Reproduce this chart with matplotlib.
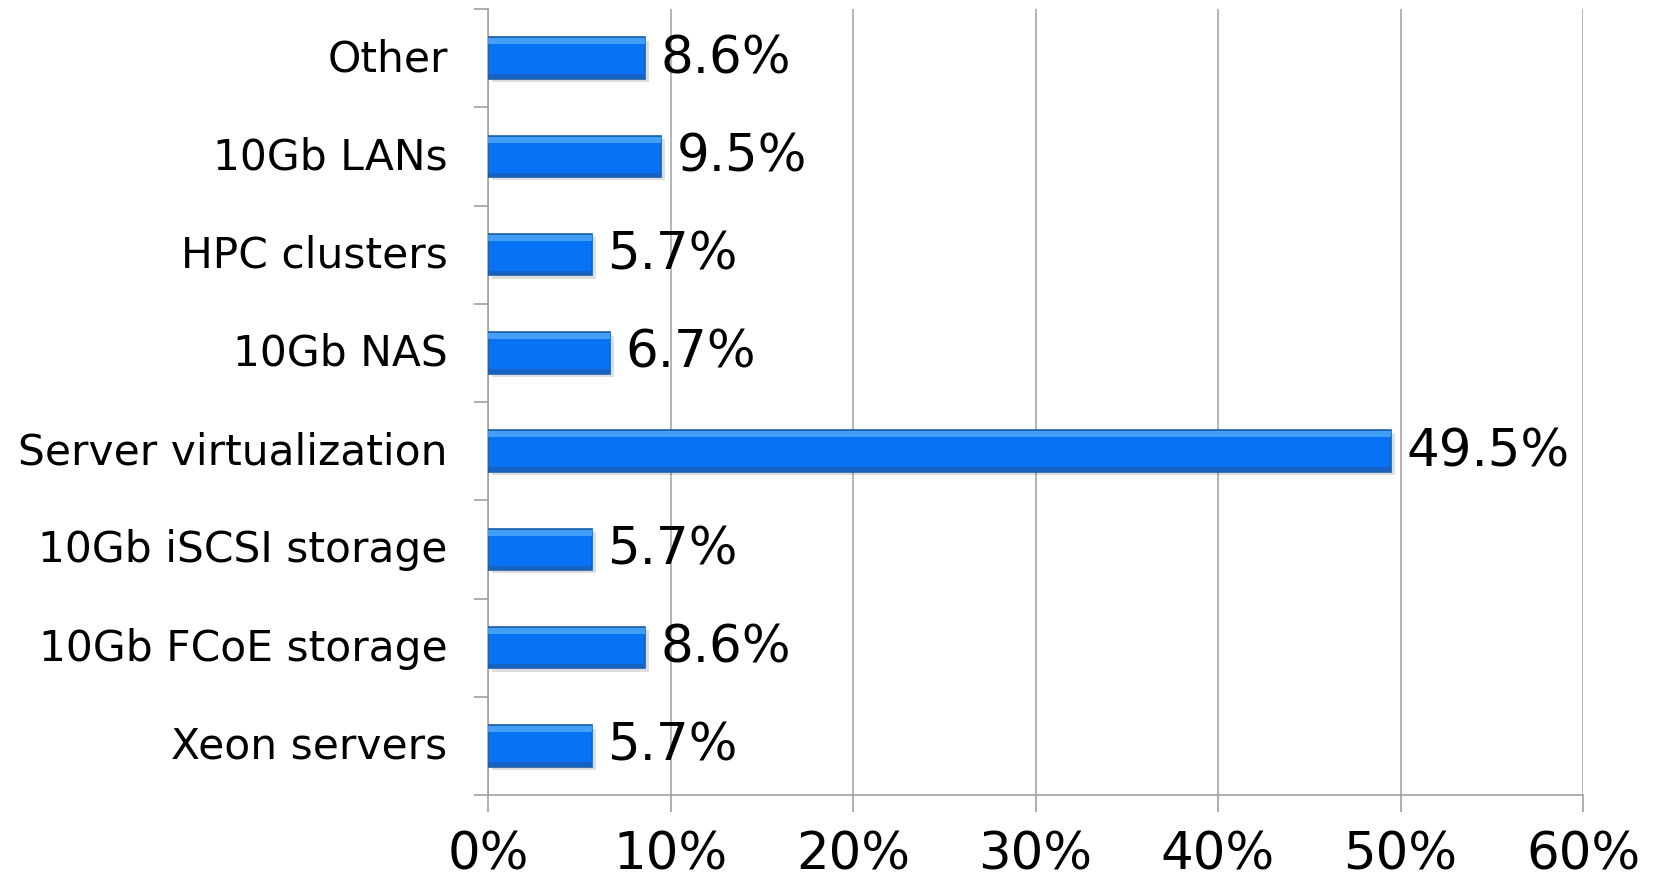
import matplotlib
matplotlib.use("Agg")
import matplotlib.pyplot as plt
import numpy as np

categories = ["Xeon servers", "10Gb FCoE storage", "10Gb iSCSI storage",
              "Server virtualization", "10Gb NAS", "HPC clusters",
              "10Gb LANs", "Other"]
values = [5.7, 8.6, 5.7, 49.5, 6.7, 5.7, 9.5, 8.6]
xticks = [0, 10, 20, 30, 40, 50, 60]
xtick_labels = ["0%", "10%", "20%", "30%", "40%", "50%", "60%"]

plt.rcParams['font.family'] = ['DejaVu Sans']

fig = plt.figure(figsize=(16.57, 8.87), dpi=100)
ax = fig.add_axes([488/1657, 1 - 796/887, (1583 - 488)/1657, (796 - 10)/887])

y = np.arange(len(categories))
h = 0.42

# shadow
ax.barh(y - 0.035, values, height=h, left=0.2, color="#000000", alpha=0.13,
        edgecolor="none", zorder=2)
# main bar
ax.barh(y, values, height=h, color="#0872f4", edgecolor="#1d5fa8",
        linewidth=1.2, zorder=3)
# top highlight
ax.barh(y + h/2 - 0.04, values, height=0.06, color="#4aa3f7",
        edgecolor="none", zorder=4, alpha=0.9)
# bottom dark band
ax.barh(y - h/2 + 0.025, values, height=0.04, color="#1a5fb8",
        edgecolor="none", zorder=4, alpha=0.8)

for yi, v in zip(y, values):
    ax.annotate(f"{v:.1f}%", xy=(v, yi), xytext=(11, 0), textcoords="offset points",
                ha="left", va="center", fontsize=37, color="black", zorder=5)

ax.set_xlim(0, 60)
ax.set_ylim(-0.5, len(categories) - 0.5)
ax.set_xticks(xticks)
ax.set_xticklabels(xtick_labels, fontsize=37)
ax.tick_params(axis="x", length=12, color="#a0a0a0", width=1.2, pad=13)

ax.set_yticks(np.arange(len(categories) + 1) - 0.5)
ax.set_yticklabels([])
ax.set_yticks(y, minor=True)
ax.set_yticklabels(categories, minor=True, fontsize=30.5, va="center")
ax.tick_params(axis="y", which="major", length=10, color="#a0a0a0", width=1.2)
ax.tick_params(axis="y", which="minor", length=0, pad=29)

ax.grid(axis="x", color="#a8a8a8", linewidth=1.2, zorder=0)
ax.set_axisbelow(True)
for s in ["top", "right"]:
    ax.spines[s].set_visible(False)
for s in ["left", "bottom"]:
    ax.spines[s].set_color("#a0a0a0")
    ax.spines[s].set_linewidth(1.2)

fig.savefig("out.png", dpi=100)
